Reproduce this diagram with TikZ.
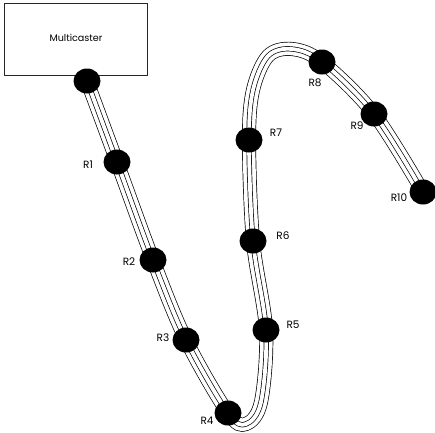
\documentclass[tikz,border=0pt]{standalone}
\usepackage{fontspec}
\setmainfont{Poppins}
\usetikzlibrary{shapes.geometric}
\begin{document}
\begin{tikzpicture}[x=1pt,y=-1pt,
  dot/.style={ellipse,fill=black,draw=none,minimum width=27pt,minimum height=25pt,inner sep=0pt},
  lbl/.style={font=\fontsize{10.5}{12}\selectfont,inner sep=0pt},
  title/.style={font=\fontsize{9.6}{11}\selectfont,inner sep=0pt},
  box/.style={draw=black!85,line width=0.8pt}]
\useasboundingbox (0,0) rectangle (435,432);
% multicaster box
\draw[box] (4,3) rectangle (147,75);
\node[title] (mc) at (76,38) {Multicaster};
% waypoints of the cable
\coordinate (m0) at (87,81);
\coordinate (c1) at (117,162);
\coordinate (c2) at (153,260);
\coordinate (c3) at (186,340);
\coordinate (c4) at (228,413);
\coordinate (b1) at (246,424);
\coordinate (b2) at (261,402);
\coordinate (c5) at (266,330);
\coordinate (c6) at (253,241);
\coordinate (c7) at (249,140);
\coordinate (t1) at (253,90);
\coordinate (t2) at (268,56);
\coordinate (t3) at (292,49);
\coordinate (c8) at (322,62);
\coordinate (c9) at (374,114);
\coordinate (c10) at (423,192);
\def\cable{plot[smooth,tension=0.55] coordinates {(m0) (c1) (c2) (c3) (c4) (b1) (b2) (c5) (c6) (c7) (t1) (t2) (t3) (c8) (c9) (c10)}}
\draw[line width=14pt] \cable;
\draw[white,line width=12.6pt] \cable;
\draw[line width=5.2pt] \cable;
\draw[white,line width=3.8pt] \cable;
% dots
\node[dot] (d0) at (m0) {};
\node[dot] (r1) at (c1) {};
\node[dot] (r2) at (c2) {};
\node[dot] (r3) at (c3) {};
\node[dot] (r4) at (c4) {};
\node[dot] (r5) at (c5) {};
\node[dot] (r6) at (c6) {};
\node[dot] (r7) at (c7) {};
\node[dot] (r8) at (c8) {};
\node[dot] (r9) at (c9) {};
\node[dot] (r10) at (c10) {};
% labels
\node[lbl] (l1) at (88,165) {R1};
\node[lbl] (l2) at (129,262) {R2};
\node[lbl] (l3) at (163,338) {R3};
\node[lbl] (l4) at (207,421) {R4};
\node[lbl] (l5) at (293,325) {R5};
\node[lbl] (l6) at (283,236) {R6};
\node[lbl] (l7) at (276,133) {R7};
\node[lbl] (l8) at (315,83) {R8};
\node[lbl] (l9) at (357,126) {R9};
\node[lbl] (l10) at (399,198) {R10};
\end{tikzpicture}
\end{document}
